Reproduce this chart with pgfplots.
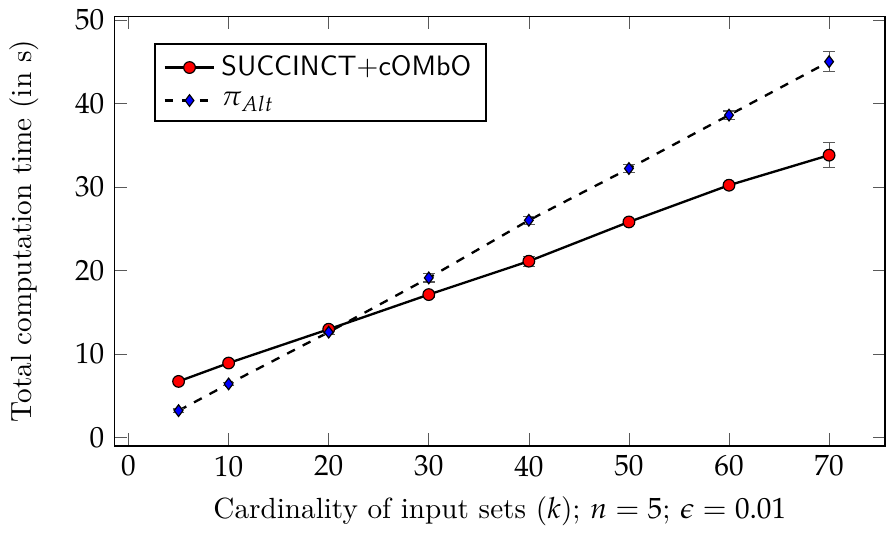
\documentclass[border=0pt]{standalone}
\usepackage{mathpazo}
\usepackage{pgfplots}
\pgfplotsset{compat=1.18}
\begin{document}
\begin{tikzpicture}
\begin{axis}[
  scale only axis, width=264pt, height=147pt,
  xmin=-1.4, xmax=75.6, ymin=-1.0, ymax=50.4,
  xtick={0,10,...,70}, ytick={0,10,...,50},
  xlabel={Cardinality of input sets ($k$); $n=5$; $\epsilon=0.01$},
  ylabel={Total computation time (in s)},
  ylabel style={yshift=5.5pt},
  axis line style={semithick},
  tick style={gray!70!black},
  legend style={at={(0.051,0.939)}, anchor=north west, font=\fontsize{9.6}{11.5}\sffamily, cells={anchor=west}, semithick},
]
\addplot[thick, mark=*, mark size=2pt, mark options={fill=red, solid, thin},
  error bars/.cd, y dir=both, y explicit, error bar style={gray!70!black, thin}]
  coordinates {
  (5,6.7) +- (0,0.2)
  (10,8.9) +- (0,0.2)
  (20,12.95) +- (0,0.2)
  (30,17.1) +- (0,0.3)
  (40,21.1) +- (0,0.6)
  (50,25.8) +- (0,0.3)
  (60,30.2) +- (0,0.3)
  (70,33.8) +- (0,1.5)
};
\addlegendentry{SUCCINCT+cOMbO}
\addplot[thick, dashed, mark=diamond*, mark size=2pt, mark options={fill=blue, solid, thin},
  error bars/.cd, y dir=both, y explicit, error bar style={gray!70!black, thin, solid}]
  coordinates {
  (5,3.2) +- (0,0.2)
  (10,6.4) +- (0,0.2)
  (20,12.6) +- (0,0.3)
  (30,19.1) +- (0,0.5)
  (40,26.0) +- (0,0.5)
  (50,32.2) +- (0,0.5)
  (60,38.6) +- (0,0.5)
  (70,45.0) +- (0,1.2)
};
\addlegendentry{$\pi_{Alt}$}
\end{axis}
\end{tikzpicture}
\end{document}
